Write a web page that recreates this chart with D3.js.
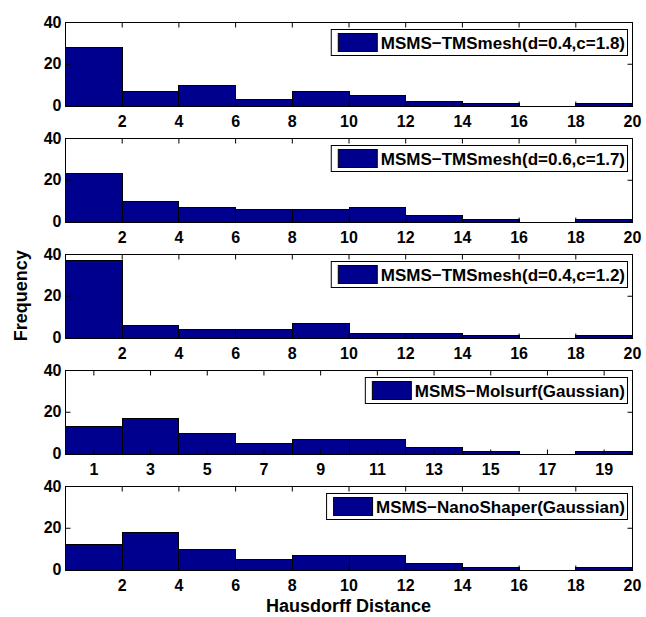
<!DOCTYPE html>
<html>
<head>
<meta charset="utf-8">
<script src="https://cdn.jsdelivr.net/npm/d3@7"></script>
<style>
  html, body { margin: 0; padding: 0; background: #fff; }
  svg { display: block; font-family: "Liberation Sans", Arial, Helvetica, sans-serif; font-weight: bold; }
</style>
</head>
<body>
<svg id="chart" width="646" height="617"></svg>
<script>
// ---- data ----
const binStarts = [0, 2, 4, 6, 8, 10, 12, 14, 16, 18];
const binWidth = 2;
const seriesNames = [
  "MSMS\u2212TMSmesh(d=0.4,c=1.8)",
  "MSMS\u2212TMSmesh(d=0.6,c=1.7)",
  "MSMS\u2212TMSmesh(d=0.4,c=1.2)",
  "MSMS\u2212Molsurf(Gaussian)",
  "MSMS\u2212NanoShaper(Gaussian)"
];
const tmsmesh_d04_c18 = [28, 7, 10, 3, 7, 5, 2, 1, 0, 1];
const tmsmesh_d06_c17 = [23, 10, 7, 6, 6, 7, 3, 1, 0, 1];
const tmsmesh_d04_c12 = [37, 6, 4, 4, 7, 2, 2, 1, 0, 1];
const molsurf_gauss   = [13, 17, 10, 5, 7, 7, 3, 1, 0, 1];
const nanoshaper_gauss = [12, 18, 10, 5, 7, 7, 3, 1, 0, 1];
const evenTicks = [2, 4, 6, 8, 10, 12, 14, 16, 18, 20];
const oddTicks = [1, 3, 5, 7, 9, 11, 13, 15, 17, 19];
const yTicks = [0, 20, 40];
const xLabel = "Hausdorff Distance";
const yLabel = "Frequency";

const panels = [
  { name: seriesNames[0], values: tmsmesh_d04_c18, ticks: evenTicks },
  { name: seriesNames[1], values: tmsmesh_d06_c17, ticks: evenTicks },
  { name: seriesNames[2], values: tmsmesh_d04_c12, ticks: evenTicks },
  { name: seriesNames[3], values: molsurf_gauss, ticks: oddTicks },
  { name: seriesNames[4], values: nanoshaper_gauss, ticks: evenTicks }
];

// ---- layout ----
const left = 65, right = 632;
const top0 = 22, step = 116, ph = 83.5;
const barColor = "#00008f";
const svg = d3.select("#chart");

const x = d3.scaleLinear().domain([0, 20]).range([left, right]);

panels.forEach((p, i) => {
  const top = top0 + step * i;
  const bottom = top + ph;
  const y = d3.scaleLinear().domain([0, 40]).range([bottom, top]);
  const g = svg.append("g");

  // bars
  g.selectAll("rect.bar")
    .data(binStarts.map((s, k) => ({ s, v: p.values[k] })))
    .join("rect")
    .attr("class", "bar")
    .attr("x", d => Math.round(x(d.s)) + 0.5)
    .attr("y", d => Math.round(y(d.v)) + 0.5)
    .attr("width", d => Math.round(x(d.s + binWidth)) - Math.round(x(d.s)))
    .attr("height", d => Math.round(y(0)) - Math.round(y(d.v)))
    .attr("fill", barColor)
    .attr("stroke", "#000")
    .attr("stroke-width", 1);

  // axes
  const axB = d3.axisBottom(x).tickValues(p.ticks).tickSizeInner(-5).tickSizeOuter(0).tickPadding(9);
  const axT = d3.axisTop(x).tickValues(p.ticks).tickSizeInner(-5).tickSizeOuter(0).tickFormat("");
  const axL = d3.axisLeft(y).tickValues(yTicks).tickSizeInner(-5).tickSizeOuter(0).tickPadding(4);
  const axR = d3.axisRight(y).tickValues(yTicks).tickSizeInner(-5).tickSizeOuter(0).tickFormat("");

  const gb = g.append("g").attr("transform", `translate(0,${Math.round(bottom) + 0.5})`).call(axB);
  const gt = g.append("g").attr("transform", `translate(0,${Math.round(top) + 0.5})`).call(axT);
  const gl = g.append("g").attr("transform", `translate(${left + 0.5},0)`).call(axL);
  const gr = g.append("g").attr("transform", `translate(${right + 0.5},0)`).call(axR);
  [gb, gt, gl, gr].forEach(a => {
    a.select(".domain").remove();
    a.selectAll("text").attr("font-size", 16).attr("font-weight", "bold")
      .attr("font-family", "'Liberation Sans', Arial, Helvetica, sans-serif").attr("fill", "#000");
    a.selectAll("line").attr("stroke", "#000");
  });

  // frame
  g.append("rect")
    .attr("x", left + 0.5).attr("y", Math.round(top) + 0.5)
    .attr("width", right - left).attr("height", Math.round(bottom) - Math.round(top))
    .attr("fill", "none").attr("stroke", "#000").attr("stroke-width", 1);

  // legend
  const lg = g.append("g");
  const txt = lg.append("text")
    .attr("font-size", 17).attr("font-weight", "bold").attr("fill", "#000")
    .text(p.name);
  const tw = txt.node().getComputedTextLength();
  const boxRight = right - 5;
  const boxTop = Math.round(top) + 7;
  const boxH = 26;
  const textX = boxRight - 2 - tw;
  const swW = 39;
  const swX = textX - 4 - swW;
  const boxLeft = swX - 7;
  lg.insert("rect", "text")
    .attr("x", boxLeft + 0.5).attr("y", boxTop + 0.5)
    .attr("width", boxRight - boxLeft).attr("height", boxH)
    .attr("fill", "#fff").attr("stroke", "#000").attr("stroke-width", 1);
  lg.insert("rect", "text")
    .attr("x", swX + 0.5).attr("y", boxTop + 4.5)
    .attr("width", swW).attr("height", boxH - 8)
    .attr("fill", barColor).attr("stroke", "#000").attr("stroke-width", 1);
  txt.attr("x", textX).attr("y", boxTop + 19.5);
});

// axis titles
svg.append("text")
  .attr("x", (left + right) / 2).attr("y", 612)
  .attr("text-anchor", "middle").attr("font-size", 18).attr("font-weight", "bold")
  .text(xLabel);
svg.append("text")
  .attr("transform", `translate(27,${top0 + (step * 4 + ph) / 2}) rotate(-90)`)
  .attr("text-anchor", "middle").attr("font-size", 18).attr("font-weight", "bold")
  .text(yLabel);
</script>
</body>
</html>
